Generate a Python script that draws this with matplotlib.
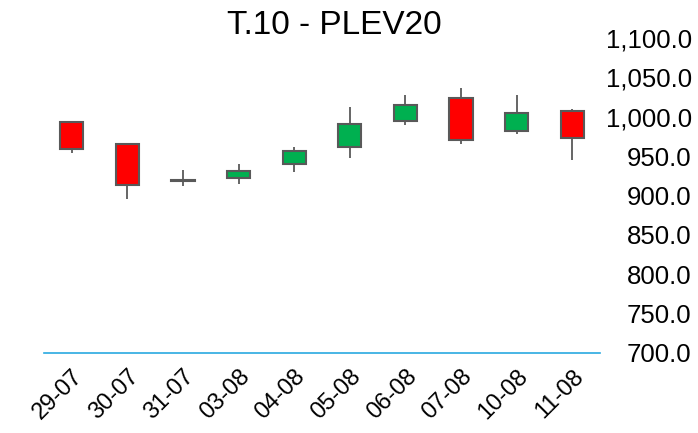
import matplotlib
matplotlib.use("Agg")
import matplotlib.pyplot as plt
from matplotlib.ticker import FuncFormatter

plt.rcParams['font.family'] = ['Liberation Sans', 'DejaVu Sans']

dates = ["29-07", "30-07", "31-07", "03-08", "04-08", "05-08", "06-08", "07-08", "10-08", "11-08"]
opens = [993, 965, 919, 922, 940, 962, 995, 1024, 982, 1007]
closes = [959, 913, 920, 931, 956, 991, 1015, 971, 1005, 973]
highs = [995, 967, 933, 940, 962, 1013, 1028, 1037, 1028, 1010]
lows = [954, 896, 912, 914, 930, 947, 989, 965, 978, 945]

up_color = "#00b050"
down_color = "#ff0000"
edge = "#595959"

fig = plt.figure(figsize=(6.98, 4.33), dpi=100)
ax = fig.add_axes([44/698, 1-353/433, (600-44)/698, (353-38)/433])

width = 0.42
for i, (o, c, h, l) in enumerate(zip(opens, closes, highs, lows)):
    col = up_color if c >= o else down_color
    bot, top = min(o, c), max(o, c)
    ax.vlines(i, l, bot, color=edge, linewidth=1.3, zorder=1)
    ax.vlines(i, top, h, color=edge, linewidth=1.3, zorder=1)
    ax.bar(i, max(top - bot, 0.6), bottom=bot, width=width, color=col,
           edgecolor=edge, linewidth=1.5, zorder=2)

ax.set_xlim(-0.5, len(dates) - 0.5)
ax.set_ylim(700, 1100)
ax.set_yticks(range(700, 1101, 50))
ax.yaxis.set_major_formatter(FuncFormatter(lambda v, p: f"{v:,.1f}"))
ax.yaxis.tick_right()
ax.set_xticks(range(len(dates)))
ax.set_xticklabels(dates, rotation=45, ha='right', rotation_mode='anchor', fontsize=17)
ax.tick_params(axis='y', length=0, labelsize=18.5)
ax.tick_params(axis='x', length=0, pad=9)
for lab in ax.get_yticklabels():
    lab.set_ha('right')
ax.yaxis.set_tick_params(pad=66)
for s in ['top', 'right', 'left']:
    ax.spines[s].set_visible(False)
ax.spines['bottom'].set_color('#29a9e0')
ax.spines['bottom'].set_linewidth(1.2)

fig.text(334/698, 1-26/433, "T.10 - PLEV20", ha='center', va='center', fontsize=24)

fig.savefig("out.png", dpi=100)
